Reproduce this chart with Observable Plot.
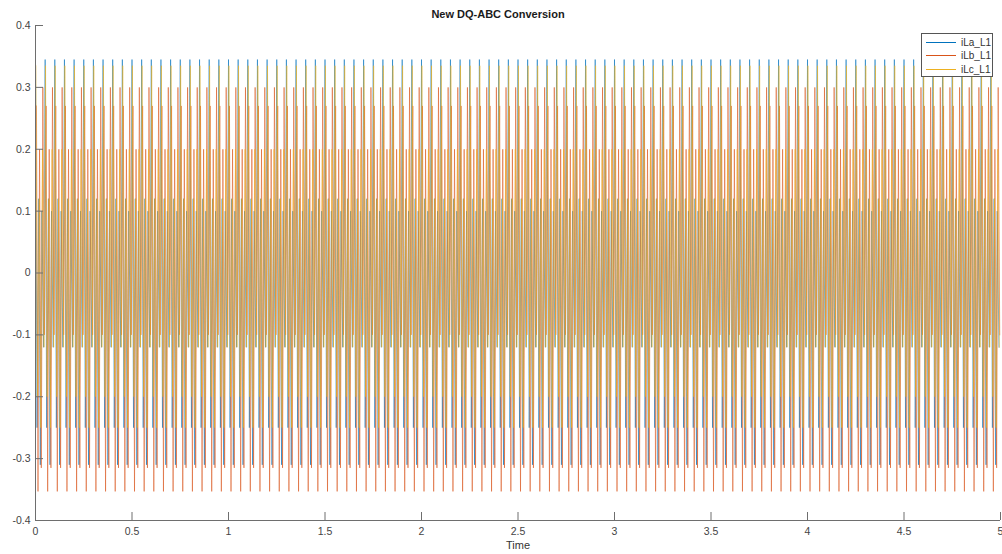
<!DOCTYPE html>
<html>
<head>
<meta charset="utf-8">
<script src="https://cdn.jsdelivr.net/npm/d3@7"></script>
<script src="https://cdn.jsdelivr.net/npm/@observablehq/plot@0.6"></script>
<style>
  body { margin: 0; background: #fff; font-family: "Liberation Sans", Arial, sans-serif; }
  #chart { position: relative; width: 1002px; height: 554px; overflow: hidden; }
  #title { position: absolute; top: 8px; left: 0; width: 996px; text-align: center;
           font-weight: bold; font-size: 11px; color: #1a1a1a; }
  #legend { position: absolute; left: 921px; top: 33px; width: 70px; height: 42px;
            border: 1px solid #555; background: #fff; font-size: 10px; color: #333; }
  #legend .row { position: absolute; left: 4px; height: 12px; display: flex; align-items: center; }
  #legend .swatch { width: 30px; height: 1px; margin-right: 5px; }
</style>
</head>
<body>
<div id="chart">
  <div id="title">New DQ-ABC Conversion</div>
  <div id="legend"></div>
</div>
<script>
// Series names and MATLAB default line colours
const seriesNames = ["iLa_L1", "iLb_L1", "iLc_L1"];
const seriesColors = ["#0072BD", "#D95319", "#EDB120"];

// Repeating waveform: the samples inside one 0.05 s cycle, as offsets (s) and values
const cyclePeriod = 0.05;
const cycleCount = 100;
const iLaOffsets = [0.000, 0.008, 0.017, 0.025, 0.033, 0.042];
const iLaValues  = [0.345, -0.25, 0.12, -0.31, 0.10, -0.12];
const iLbOffsets = [0.005, 0.013, 0.021, 0.030, 0.038, 0.046];
const iLbValues  = [0.27, -0.353, 0.20, -0.315, 0.30, -0.10];
const iLcOffsets = [0.002, 0.010, 0.019, 0.027, 0.036, 0.044];
const iLcValues  = [0.335, -0.20, 0.12, -0.25, 0.20, -0.12];

// Axis ticks
const xTicks = [0, 0.5, 1, 1.5, 2, 2.5, 3, 3.5, 4, 4.5, 5];
const yTicks = [-0.4, -0.3, -0.2, -0.1, 0, 0.1, 0.2, 0.3, 0.4];

function buildSeries(offsets, values) {
  const rows = [];
  for (let k = 0; k < cycleCount; k++) {
    offsets.forEach((o, i) => rows.push({t: k * cyclePeriod + o, v: values[i]}));
  }
  return rows;
}

const series = [
  buildSeries(iLaOffsets, iLaValues),
  buildSeries(iLbOffsets, iLbValues),
  buildSeries(iLcOffsets, iLcValues)
];

const fmt = d => String(+d.toFixed(1));
const axisColor = "#6e6e6e";
const font = "Liberation Sans, Arial, sans-serif";

const plot = Plot.plot({
  width: 1002,
  height: 554,
  marginLeft: 35,
  marginRight: 2,
  marginTop: 25,
  marginBottom: 34,
  style: {fontFamily: font, fontSize: "10.5px", color: "#444", background: "transparent"},
  x: {domain: [0, 5], ticks: xTicks},
  y: {domain: [-0.4, 0.4], ticks: yTicks},
  marks: [
    ...series.map((rows, i) =>
      Plot.line(rows, {x: "t", y: "v", stroke: seriesColors[i], strokeWidth: 0.9, strokeOpacity: 0.62})
    ),
    // inward ticks
    Plot.axisX(xTicks, {tickSize: 8, dy: -8, tickFormat: () => "", stroke: axisColor, label: null}),
    Plot.axisY(yTicks, {tickSize: 8, dx: 8, tickFormat: () => "", stroke: axisColor, label: null}),
    // tick labels
    Plot.axisX(xTicks, {tickSize: 0, tickPadding: 7, tickFormat: fmt, fill: "#444", label: null}),
    Plot.axisY(yTicks, {tickSize: 0, tickPadding: 5, tickFormat: fmt, fill: "#444", label: null}),
    // axis lines
    Plot.ruleX([0], {stroke: axisColor}),
    Plot.ruleY([-0.4], {stroke: axisColor}),
    Plot.text(["Time"], {frameAnchor: "bottom", dy: 28, fill: "#333", fontSize: 11})
  ]
});

const chart = document.getElementById("chart");
plot.style.position = "absolute";
plot.style.left = "0";
plot.style.top = "0";
chart.insertBefore(plot, chart.firstChild);

// Legend
const legend = document.getElementById("legend");
seriesNames.forEach((name, i) => {
  const row = document.createElement("div");
  row.className = "row";
  row.style.top = (2 + i * 13.5) + "px";
  const sw = document.createElement("div");
  sw.className = "swatch";
  sw.style.background = seriesColors[i];
  const label = document.createElement("span");
  label.textContent = name;
  row.appendChild(sw);
  row.appendChild(label);
  legend.appendChild(row);
});
</script>
</body>
</html>
